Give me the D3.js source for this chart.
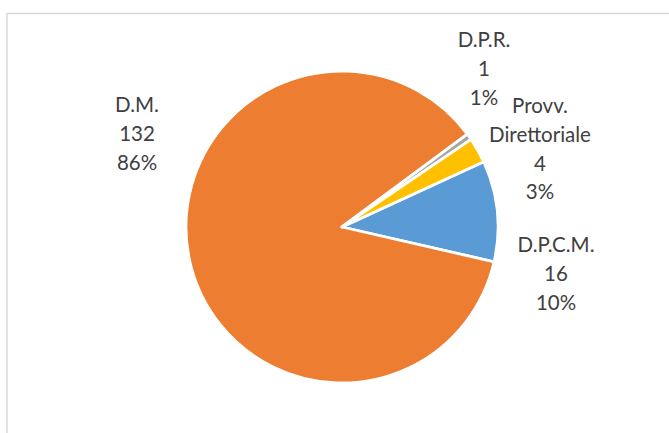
<!DOCTYPE html>
<html>
<head>
<meta charset="utf-8">
<script src="https://cdn.jsdelivr.net/npm/d3@7"></script>
<style>
  html, body { margin: 0; padding: 0; background: #fff; }
  svg { display: block; }
</style>
</head>
<body>
<svg id="chart" width="669" height="433"></svg>
<script>
// ---- data ----
const categories = ["D.P.C.M.", "D.M.", "D.P.R.", "Provv. Direttoriale"];
const values = [16, 132, 1, 4];
const percentLabels = ["10%", "86%", "1%", "3%"];
const colors = ["#5B9BD5", "#ED7D31", "#A5A5A5", "#FFC000"];

// label line breaks (category text split into lines)
const categoryLines = [["D.P.C.M."], ["D.M."], ["D.P.R."], ["Provv.", "Direttoriale"]];

// ---- layout ----
const W = 669, H = 433;
const cx = 342, cy = 227, R = 156;
const startDeg = 65.25;
const labelAnchors = [[556, 252], [137, 112], [484, 47], [540, 113]]; // first baseline, center x
const lineStep = 28.8;

const svg = d3.select("#chart");

// chart area border
svg.append("rect")
  .attr("x", 7).attr("y", 13.5)
  .attr("width", W + 10).attr("height", H + 10)
  .attr("fill", "#fff")
  .attr("stroke", "#d9d9d9")
  .attr("stroke-width", 1.5);

const pie = d3.pie()
  .sort(null)
  .value(d => d)
  .startAngle(startDeg * Math.PI / 180)
  .endAngle((startDeg + 360) * Math.PI / 180);

const arcs = pie(values);
const arc = d3.arc().innerRadius(0).outerRadius(R);

const g = svg.append("g").attr("transform", `translate(${cx},${cy})`);
g.selectAll("path")
  .data(arcs)
  .join("path")
  .attr("d", arc)
  .attr("fill", (d, i) => colors[i])
  .attr("stroke", "#fff")
  .attr("stroke-width", 2.8)
  .attr("stroke-linejoin", "round");

// labels
const labels = svg.append("g")
  .attr("font-family", "Lato, 'Open Sans', sans-serif")
  .attr("font-size", "20.5px")
  .attr("fill", "#404040")
  .attr("text-anchor", "middle");

categories.forEach((c, i) => {
  const lines = [...categoryLines[i], String(values[i]), percentLabels[i]];
  const [x, y] = labelAnchors[i];
  const t = labels.append("text").attr("x", x).attr("y", y);
  lines.forEach((ln, k) => {
    t.append("tspan").attr("x", x).attr("y", y + k * lineStep).text(ln);
  });
});
</script>
</body>
</html>
